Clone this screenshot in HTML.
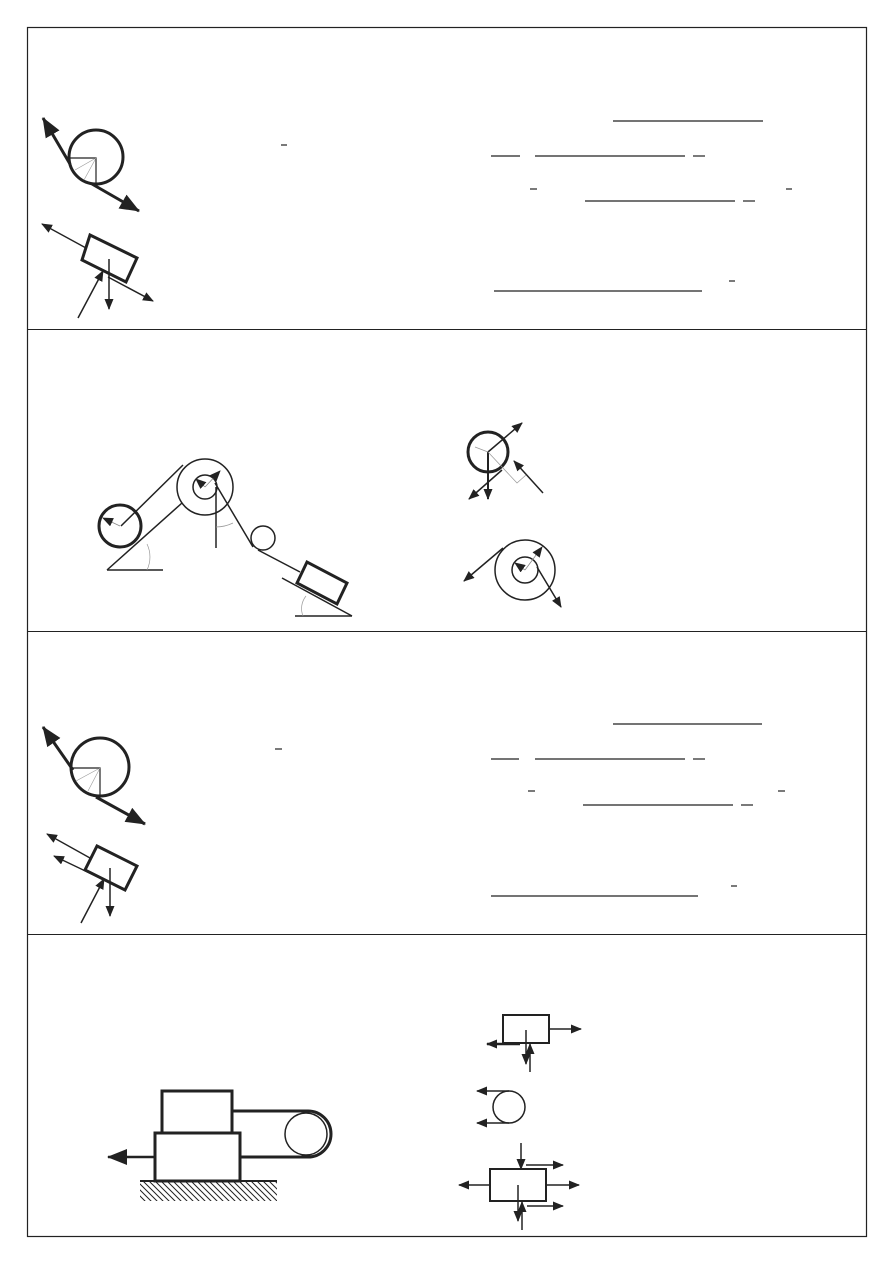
<!DOCTYPE html>
<html><head><meta charset="utf-8"><style>html,body{margin:0;padding:0;background:#fff}svg{display:block}</style></head><body>
<svg width="893" height="1263" viewBox="0 0 893 1263" xmlns="http://www.w3.org/2000/svg">
<defs>
<marker id="a" markerWidth="11" markerHeight="9" refX="10" refY="4.5" orient="auto" markerUnits="userSpaceOnUse"><path d="M0,0 L11,4.5 L0,9z" fill="#222"/></marker>
<marker id="b" markerWidth="20" markerHeight="16" refX="19" refY="8" orient="auto" markerUnits="userSpaceOnUse"><path d="M0,0 L20,8 L0,16z" fill="#222"/></marker>
<pattern id="h" width="6" height="6" patternUnits="userSpaceOnUse"><path d="M0,0 L6,6 M-3,3 L3,9 M3,-3 L9,3" stroke="#222" stroke-width="1"/></pattern>
</defs>
<g fill="none" stroke="#222">
<rect x="27.5" y="27.5" width="839" height="1209" stroke-width="1.2"/>
<line x1="27" y1="329.5" x2="866" y2="329.5"/>
<line x1="27" y1="631.5" x2="866" y2="631.5"/>
<line x1="27" y1="934.5" x2="866" y2="934.5"/>

<g stroke-width="1.2">
<line x1="613" y1="121" x2="763" y2="121"/>
<line x1="491" y1="156" x2="520" y2="156"/><line x1="535" y1="156" x2="685" y2="156"/><line x1="693" y1="156" x2="705" y2="156"/>
<line x1="530" y1="189" x2="537" y2="189"/><line x1="585" y1="201" x2="735" y2="201"/><line x1="743" y1="201" x2="755" y2="201"/><line x1="786" y1="189" x2="792" y2="189"/>
<line x1="494" y1="291" x2="702" y2="291"/><line x1="729" y1="281" x2="735" y2="281"/>
<line x1="281" y1="145" x2="287" y2="145"/>
</g>
<g stroke-width="1.2">
<line x1="613" y1="724" x2="762" y2="724"/>
<line x1="491" y1="759" x2="519" y2="759"/><line x1="535" y1="759" x2="685" y2="759"/><line x1="693" y1="759" x2="705" y2="759"/>
<line x1="528" y1="791" x2="535" y2="791"/><line x1="583" y1="805" x2="733" y2="805"/><line x1="741" y1="805" x2="753" y2="805"/><line x1="778" y1="791" x2="785" y2="791"/>
<line x1="491" y1="896" x2="698" y2="896"/><line x1="731" y1="886" x2="737" y2="886"/>
<line x1="275" y1="749" x2="282" y2="749"/>
</g>

<circle cx="96" cy="157" r="27" stroke-width="3"/>
<path d="M70,158 H96 V183" stroke-width="1.2"/>
<path d="M96,158 L75,170 M96,158 L84,180" stroke="#999" stroke-width="0.6"/>
<line x1="70" y1="164" x2="43" y2="118" stroke-width="3" marker-end="url(#b)"/>
<line x1="92" y1="184" x2="139" y2="211" stroke-width="3" marker-end="url(#b)"/>
<polygon points="90,235 137,258 126,282 82,260" stroke-width="3"/>
<line x1="86" y1="248" x2="42" y2="224" stroke-width="1.3" marker-end="url(#a)"/>
<line x1="109" y1="259" x2="109" y2="309" stroke-width="1.5" marker-end="url(#a)"/>
<line x1="78" y1="318" x2="103" y2="271" stroke-width="1.5" marker-end="url(#a)"/>
<line x1="108" y1="277" x2="153" y2="301" stroke-width="1.5" marker-end="url(#a)"/>

<circle cx="120" cy="526" r="21" stroke-width="3"/>
<line x1="120" y1="526" x2="103" y2="518" stroke="#888" stroke-width="0.8" marker-end="url(#a)"/>
<circle cx="205" cy="487" r="28" stroke-width="1.5"/>
<circle cx="205" cy="487" r="12" stroke-width="1.5"/>
<line x1="205" y1="487" x2="220" y2="471" stroke="#888" stroke-width="0.8" marker-end="url(#a)"/>
<line x1="205" y1="487" x2="196" y2="479" stroke="#888" stroke-width="0.8" marker-end="url(#a)"/>
<line x1="121" y1="526" x2="183" y2="465" stroke-width="1.5"/>
<line x1="107" y1="570" x2="182" y2="503" stroke-width="1.5"/>
<line x1="107" y1="570" x2="163" y2="570" stroke-width="1.5"/>
<path d="M147,544 A30,30 0 0 1 147,570" stroke="#999" stroke-width="0.7"/>
<line x1="216" y1="487" x2="216" y2="548" stroke-width="1.5"/>
<path d="M216,527 A40,40 0 0 0 233,523" stroke="#999" stroke-width="0.7"/>
<line x1="215" y1="483" x2="253" y2="547" stroke-width="1.5"/>
<circle cx="263" cy="538" r="12" stroke-width="1.5"/>
<line x1="258" y1="550" x2="300" y2="572" stroke-width="1.5"/>
<polygon points="297,583 307,562 347,583 337,604" stroke-width="3"/>
<line x1="282" y1="578" x2="352" y2="616" stroke-width="1.5"/>
<line x1="295" y1="616" x2="352" y2="616" stroke-width="1.5"/>
<path d="M306,596 A20,20 0 0 0 303,616" stroke="#999" stroke-width="0.7"/>

<circle cx="488" cy="452" r="20" stroke-width="3"/>
<line x1="488" y1="452" x2="522" y2="423" stroke-width="1.5" marker-end="url(#a)"/>
<line x1="488" y1="452" x2="488" y2="499" stroke-width="2" marker-end="url(#a)"/>
<line x1="502" y1="470" x2="469" y2="499" stroke-width="1.5" marker-end="url(#a)"/>
<line x1="543" y1="493" x2="514" y2="461" stroke-width="1.5" marker-end="url(#a)"/>
<path d="M488,452 L475,447 M488,452 L517,483 L526,475" stroke="#999" stroke-width="0.7"/>
<circle cx="525" cy="570" r="30" stroke-width="1.5"/>
<circle cx="525" cy="570" r="13" stroke-width="1.5"/>
<line x1="525" y1="570" x2="542" y2="547" stroke="#888" stroke-width="0.8" marker-end="url(#a)"/>
<line x1="525" y1="570" x2="515" y2="563" stroke="#888" stroke-width="0.8" marker-end="url(#a)"/>
<line x1="503" y1="548" x2="464" y2="581" stroke-width="1.5" marker-end="url(#a)"/>
<line x1="537" y1="567" x2="561" y2="607" stroke-width="1.5" marker-end="url(#a)"/>

<circle cx="100" cy="767" r="29" stroke-width="3"/>
<path d="M72,768 H100 V795" stroke-width="1.2"/>
<path d="M100,768 L76,781 M100,768 L88,791" stroke="#999" stroke-width="0.6"/>
<line x1="73" y1="770" x2="43" y2="727" stroke-width="3" marker-end="url(#b)"/>
<line x1="96" y1="797" x2="145" y2="824" stroke-width="3" marker-end="url(#b)"/>
<polygon points="97,846 137,866 125,890 85,870" stroke-width="3"/>
<line x1="90" y1="858" x2="47" y2="834" stroke-width="1.3" marker-end="url(#a)"/>
<line x1="100" y1="878" x2="54" y2="856" stroke-width="1.3" marker-end="url(#a)"/>
<line x1="110" y1="868" x2="110" y2="916" stroke-width="1.5" marker-end="url(#a)"/>
<line x1="81" y1="923" x2="104" y2="879" stroke-width="1.5" marker-end="url(#a)"/>

<rect x="140" y="1181" width="137" height="20" fill="url(#h)" stroke="none"/>
<line x1="140" y1="1181" x2="277" y2="1181" stroke-width="2"/>
<rect x="162" y="1091" width="70" height="42" stroke-width="3"/>
<rect x="155" y="1133" width="85" height="48" stroke-width="3"/>
<line x1="155" y1="1157" x2="108" y2="1157" stroke-width="2.5" marker-end="url(#b)"/>
<path d="M232,1111 H308 A23,23 0 0 1 308,1157 H240" stroke-width="3"/>
<circle cx="306" cy="1134" r="21" stroke-width="1.5"/>

<rect x="503" y="1015" width="46" height="28" stroke-width="2"/>
<line x1="549" y1="1029" x2="581" y2="1029" stroke-width="1.5" marker-end="url(#a)"/>
<line x1="520" y1="1044" x2="487" y2="1044" stroke-width="2.5" marker-end="url(#a)"/>
<line x1="526" y1="1030" x2="526" y2="1064" stroke-width="1.5" marker-end="url(#a)"/>
<line x1="530" y1="1072" x2="530" y2="1044" stroke-width="1.5" marker-end="url(#a)"/>
<circle cx="509" cy="1107" r="16" stroke-width="1.5"/>
<line x1="509" y1="1091" x2="477" y2="1091" stroke-width="1.5" marker-end="url(#a)"/>
<line x1="509" y1="1123" x2="477" y2="1123" stroke-width="1.5" marker-end="url(#a)"/>
<rect x="490" y="1169" width="56" height="32" stroke-width="2"/>
<line x1="521" y1="1143" x2="521" y2="1169" stroke-width="1.5" marker-end="url(#a)"/>
<line x1="526" y1="1165" x2="563" y2="1165" stroke-width="1.5" marker-end="url(#a)"/>
<line x1="490" y1="1185" x2="459" y2="1185" stroke-width="1.5" marker-end="url(#a)"/>
<line x1="546" y1="1185" x2="579" y2="1185" stroke-width="1.5" marker-end="url(#a)"/>
<line x1="518" y1="1185" x2="518" y2="1221" stroke-width="1.5" marker-end="url(#a)"/>
<line x1="522" y1="1230" x2="522" y2="1202" stroke-width="1.5" marker-end="url(#a)"/>
<line x1="527" y1="1206" x2="563" y2="1206" stroke-width="1.5" marker-end="url(#a)"/>
</g>
</svg>
</body></html>
